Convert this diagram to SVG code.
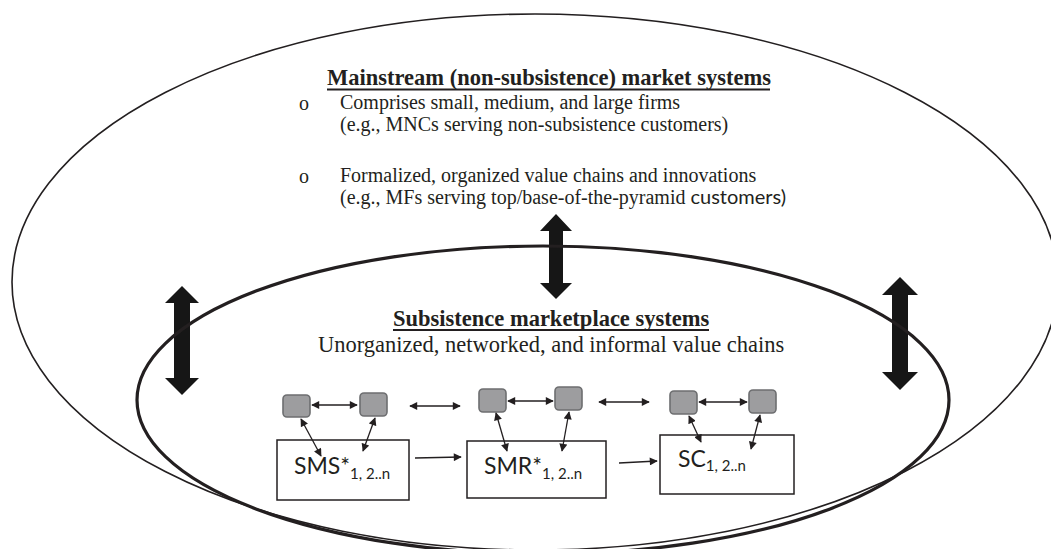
<svg xmlns="http://www.w3.org/2000/svg" width="1051" height="549" viewBox="0 0 1051 549">
<style>
.ser{font-family:"Liberation Serif","Times New Roman",serif;fill:#231f20}
.ttl{font-size:22.5px;font-weight:bold}
.body{font-size:20px}
.sans{font-family:Lato,"Liberation Sans",sans-serif;fill:#231f20}
.lbl{font-size:23px}
.sub{font-size:15px}
.sq{fill:#9d9d9f;stroke:#6d6e70;stroke-width:1.6}
.box{fill:#fff;stroke:#231f20;stroke-width:1.5}
.big{fill:#161616}
.thin{stroke:#231f20;stroke-width:1.3;fill:none}
.ul{stroke:#231f20;stroke-width:2}
</style>
<defs>
<marker id="ah" viewBox="0 0 10 10" refX="9" refY="5" markerWidth="9" markerHeight="8" markerUnits="userSpaceOnUse" orient="auto-start-reverse">
<path d="M0,0 L10,5 L0,10 z" fill="#231f20"/>
</marker>
</defs>
<rect width="1051" height="549" fill="#fff"/>

<g id="interaction-arrows">
<polygon class="big" points="182,286 199,303 190,303 190,378 199,378 182,395 165,378 174,378 174,303 165,303"/>
<polygon class="big" points="900,277 918,295 908,295 908,372 918,372 900,390 882,372 892,372 892,295 882,295"/>
<polygon class="big" points="556,214 572,231 563,231 563,283 572,283 556,299 540,283 549,283 549,231 540,231"/>
</g>

<g id="mainstream">
<ellipse cx="535" cy="282" rx="523" ry="268" fill="none" stroke="#231f20" stroke-width="1.6"/>
<text class="ser ttl" x="327" y="85">Mainstream (non-subsistence) market systems</text>
<line class="ul" x1="327" y1="89.5" x2="770" y2="89.5"/>
<text class="ser body" x="299" y="110">o</text>
<text class="ser body" x="340" y="109">Comprises small, medium, and large firms</text>
<text class="ser body" x="340" y="131">(e.g., MNCs serving non-subsistence customers)</text>
<text class="ser body" x="299" y="183">o</text>
<text class="ser body" x="340" y="182">Formalized, organized value chains and innovations</text>
<text class="ser body" x="340" y="204">(e.g., MFs serving top/base-of-the-pyramid <tspan class="sans">customers)</tspan></text>
</g>

<g id="subsistence">
<ellipse cx="543" cy="400" rx="406" ry="154" fill="none" stroke="#231f20" stroke-width="3.2"/>
<text class="ser ttl" x="393" y="326">Subsistence marketplace systems</text>
<line class="ul" x1="393" y1="330" x2="709" y2="330"/>
<text class="ser" x="318" y="352" font-size="22.5">Unorganized, networked, and informal value chains</text>
</g>

<g id="actor-1"><rect class="sq" x="283" y="395" width="27" height="22" rx="4"/></g>
<g id="actor-2"><rect class="sq" x="360" y="393" width="27" height="23" rx="4"/></g>
<g id="actor-3"><rect class="sq" x="479" y="389" width="27" height="23" rx="4"/></g>
<g id="actor-4"><rect class="sq" x="555" y="387" width="27" height="23" rx="4"/></g>
<g id="actor-5"><rect class="sq" x="670" y="391" width="27" height="23" rx="4"/></g>
<g id="actor-6"><rect class="sq" x="749" y="390" width="27" height="23" rx="4"/></g>

<g id="sms">
<rect class="box" x="277" y="440" width="132" height="60"/>
<text class="sans lbl" x="294" y="474">SMS*<tspan class="sub" dy="5">1, 2..n</tspan></text>
</g>
<g id="smr">
<rect class="box" x="467" y="441" width="139" height="57"/>
<text class="sans lbl" x="484" y="474">SMR*<tspan class="sub" dy="5">1, 2..n</tspan></text>
</g>
<g id="sc">
<rect class="box" x="660" y="435" width="134" height="59"/>
<text class="sans lbl" x="678" y="467">SC<tspan class="sub" dy="4">1, 2..n</tspan></text>
</g>

<g id="connectors">
<line class="thin" x1="312" y1="405" x2="357" y2="405" marker-start="url(#ah)" marker-end="url(#ah)"/>
<line class="thin" x1="410" y1="406" x2="460" y2="406" marker-start="url(#ah)" marker-end="url(#ah)"/>
<line class="thin" x1="508" y1="401" x2="553" y2="401" marker-start="url(#ah)" marker-end="url(#ah)"/>
<line class="thin" x1="599" y1="402" x2="649" y2="402" marker-start="url(#ah)" marker-end="url(#ah)"/>
<line class="thin" x1="699" y1="402" x2="747" y2="402" marker-start="url(#ah)" marker-end="url(#ah)"/>
<line class="thin" x1="301" y1="419" x2="321" y2="456" marker-start="url(#ah)" marker-end="url(#ah)"/>
<line class="thin" x1="375" y1="418" x2="363" y2="451" marker-start="url(#ah)" marker-end="url(#ah)"/>
<line class="thin" x1="496" y1="413" x2="507" y2="451" marker-start="url(#ah)" marker-end="url(#ah)"/>
<line class="thin" x1="569" y1="412" x2="562" y2="451" marker-start="url(#ah)" marker-end="url(#ah)"/>
<line class="thin" x1="689" y1="416" x2="701" y2="442" marker-start="url(#ah)" marker-end="url(#ah)"/>
<line class="thin" x1="760" y1="415" x2="751" y2="449" marker-start="url(#ah)" marker-end="url(#ah)"/>
<line class="thin" x1="415" y1="458" x2="461" y2="457" marker-end="url(#ah)"/>
<line class="thin" x1="619" y1="463" x2="657" y2="461" marker-end="url(#ah)"/>
</g>
</svg>
